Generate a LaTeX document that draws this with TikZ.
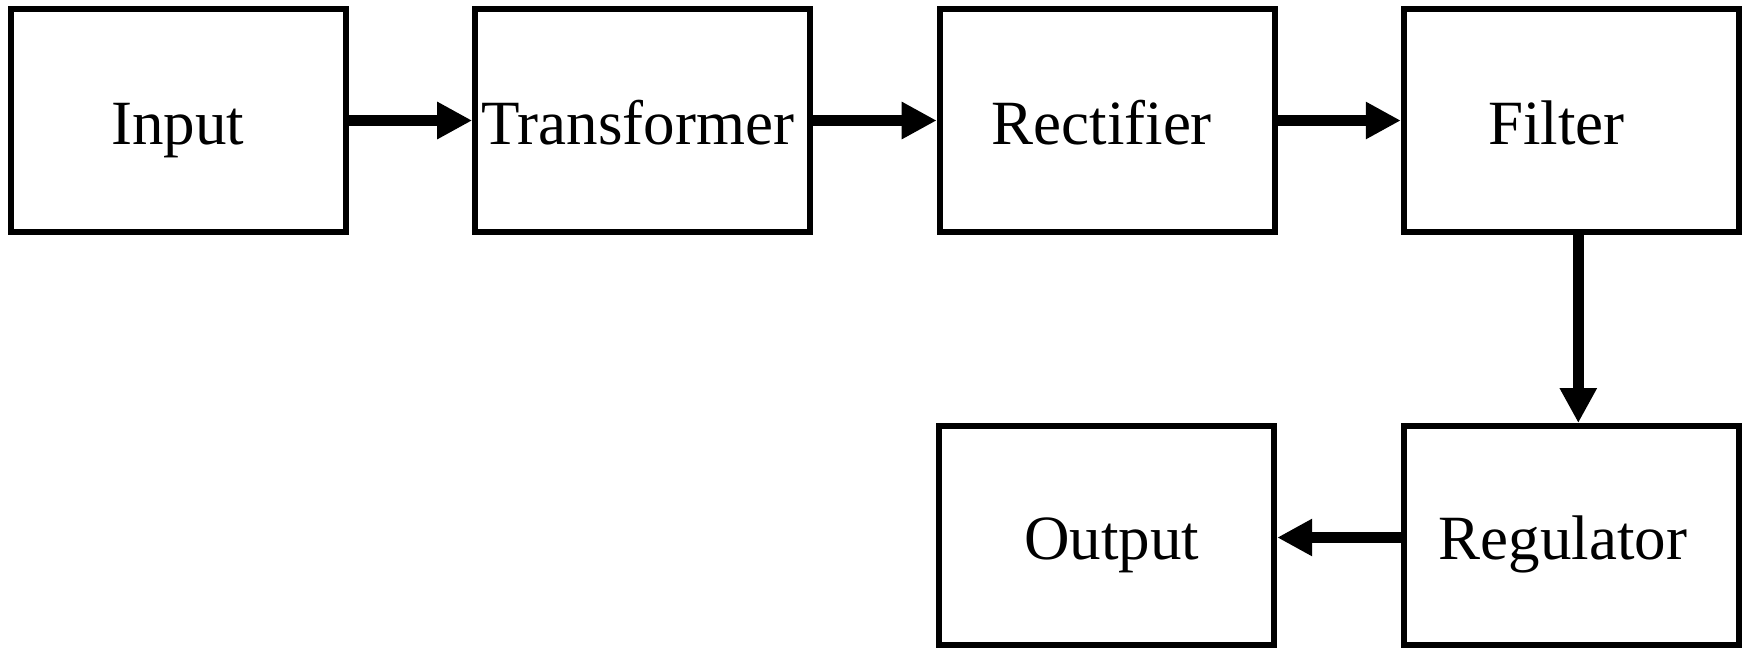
\documentclass[tikz,border=0pt]{standalone}
\usepackage{fontspec}
\setmainfont{Liberation Serif}
\usetikzlibrary{arrows.meta}
% shift a label sideways inside its box by half the given amount
\newcommand{\nudge}[2]{\hspace*{#1}#2}
\begin{document}
\begin{tikzpicture}[x=1pt,y=-1pt,
  block/.style={draw, line width=6pt, minimum width=335pt, minimum height=223pt,
    inner sep=0pt, text height=54pt, text depth=6pt,
    font=\fontsize{63}{70}\selectfont},
  lowblock/.style={block, minimum height=219pt},
  flow/.style={line width=11pt, -{Triangle[length=35pt,width=35pt]}}]
  \useasboundingbox (0,0) rectangle (1746,649);

  % top row: supply chain
  \node[block] (input) at (178.7,120.5) {\nudge{-2pt}{Input}};
  \node[block] (trans) at (642.7,120.5) {\nudge{-10pt}{Transformer}};
  \node[block] (rect)  at (1107.2,120.5) {\nudge{-11pt}{Rectifier}};
  \node[block] (filt)  at (1571.3,120.5) {\nudge{-30pt}{Filter}};

  % bottom row
  \node[lowblock] (out) at (1106.7,535.5) {\nudge{10pt}{Output}};
  \node[lowblock] (reg) at (1571.3,535.5) {\nudge{-17pt}{Regulator}};

  % connectors
  \draw[flow] (input) -- (trans);
  \draw[flow] (trans) -- (rect);
  \draw[flow] (rect) -- (filt);
  \draw[flow] ([xshift=7pt]filt.south) -- ([xshift=7pt]reg.north);
  \draw[flow] ([yshift=-2pt]reg.west) -- ([yshift=-2pt]out.east);
\end{tikzpicture}
\end{document}
